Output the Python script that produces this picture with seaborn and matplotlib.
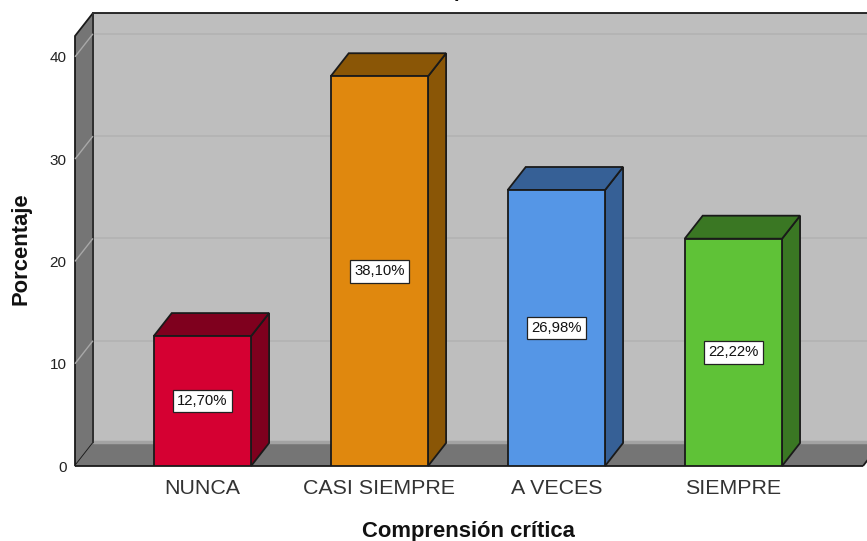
import matplotlib
matplotlib.use('Agg')
import matplotlib.pyplot as plt
from matplotlib.patches import Polygon
from matplotlib.transforms import IdentityTransform
import seaborn as sns
import pandas as pd

categories = ['NUNCA', 'CASI SIEMPRE', 'A VECES', 'SIEMPRE']
porcentaje = [12.70, 38.10, 26.98, 22.22]
etiquetas = ['12,70%', '38,10%', '26,98%', '22,22%']
y_ticks = [0, 10, 20, 30, 40]

colores = ['#D50032', '#E0880E', '#5596E6', '#5FC237']
colores_osc = ['#7F001E', '#8A5606', '#366096', '#3A7723']

W, H = 867, 541
DX, DY = 18, 23  # profundidad del efecto 3D en pixeles
BAR_W = 0.55

sns.set_theme(style='white')
plt.rcParams['font.family'] = ['Liberation Sans', 'DejaVu Sans']

df = pd.DataFrame({'cat': categories, 'pct': porcentaje})

fig = plt.figure(figsize=(W / 100, H / 100), dpi=100)
ax = fig.add_axes([75 / W, (H - 466) / H, (W - 75) / W, (466 - 13) / H])
ax.patch.set_alpha(0)

sns.barplot(data=df, x='cat', y='pct', hue='cat', palette=colores, legend=False,
            width=BAR_W, edgecolor='#1a1a1a', linewidth=1.3, saturation=1, ax=ax, zorder=5)
ax.set_xlim(-0.72, 3.755)
ax.set_ylim(0, (466 - 13) / 10.23)
fig.canvas.draw()


def px(x, y):
    return ax.transData.transform((x, y))


def poly(puntos, color, edge='#1a1a1a', lw=1.3, z=2):
    ax.add_patch(Polygon(puntos, closed=True, facecolor=color, edgecolor=edge, linewidth=lw,
                         transform=IdentityTransform(), zorder=z, clip_on=False))


def linea(xs, ys, color, lw=1.3, z=3):
    ax.plot(xs, ys, color=color, lw=lw, transform=IdentityTransform(), zorder=z,
            clip_on=False, solid_capstyle='butt')


x0, y0 = px(ax.get_xlim()[0], 0)
x1, _ = px(ax.get_xlim()[1], 0)
_, ytop = px(0, ax.get_ylim()[1])

# pared del fondo, pared lateral y piso
poly([(x0 + DX, y0 + DY), (x1 + 5, y0 + DY), (x1 + 5, ytop), (x0 + DX, ytop)], '#BEBEBE', z=1)
poly([(x0, y0), (x0 + DX, y0 + DY), (x0 + DX, ytop), (x0, ytop - DY)], '#757575', z=2)
poly([(x0, y0), (x1 - 4, y0), (x1 + DX - 4, y0 + DY), (x0 + DX, y0 + DY)], '#757575', edge='none', z=2)
linea([x0 + DX, x1 + 5], [y0 + DY + 1.5, y0 + DY + 1.5], '#A3A3A3', lw=2.5)
linea([x0, x1 - 4], [y0, y0], '#1a1a1a')
linea([x1 - 4, x1 + DX - 4], [y0, y0 + DY], '#1a1a1a')
linea([x0 + DX, x0 + DX], [y0 + DY, ytop], '#333333', lw=1.3)

# rejilla en la pared y el lateral
for t in y_ticks[1:]:
    xa, ya = px(ax.get_xlim()[0], t)
    linea([xa, xa + DX], [ya, ya + DY], '#A8A8A8', lw=1)
    linea([xa + DX + 1, x1 + 5], [ya + DY, ya + DY], '#B3B3B3', lw=1.3)

# caras lateral y superior de cada barra, sacadas de las barras dibujadas
for bar, c_osc, txt in zip(ax.patches[:len(categories)], colores_osc, etiquetas):
    bx, bh, bw = bar.get_x(), bar.get_height(), bar.get_width()
    xl, yb = px(bx, 0)
    xr, yt = px(bx + bw, bh)
    poly([(xr, yb), (xr + DX, yb + DY), (xr + DX, yt + DY), (xr, yt)], c_osc, z=4)
    poly([(xl, yt), (xr, yt), (xr + DX, yt + DY), (xl + DX, yt + DY)], c_osc, z=4)
    ax.text(bx + bw / 2, bh / 2, txt, ha='center', va='center', fontsize=10.7, color='#111111', zorder=6,
            bbox=dict(boxstyle='square,pad=0.3', facecolor='white', edgecolor='#222222', linewidth=0.9))

ax.set_yticks(y_ticks)
ax.set_xticks(range(len(categories)))
ax.set_xticklabels(categories, fontsize=15.4, color='#333333')
ax.tick_params(axis='y', labelsize=11, labelcolor='#222222', length=0, pad=6)
ax.tick_params(axis='x', length=0, pad=9)
sns.despine(ax=ax, left=True, bottom=True)
ax.set_xlabel('')
ax.set_ylabel('')

fig.text(468 / W, 1 - 531 / H, 'Comprensión crítica', ha='center', va='center', fontsize=15.8,
         fontweight='bold', color='#111111')
fig.text(21 / W, 1 - 249 / H, 'Porcentaje', ha='center', va='center', rotation=90, fontsize=15.8,
         fontweight='bold', color='#111111')
# titulo recortado en el original: solo asoma el trazo de la p
fig.text(460 / W, 1 + 3 / H, 'p', ha='center', va='baseline', fontsize=14.5, fontweight='bold', color='#111111')

fig.savefig('out.png', dpi=100)
